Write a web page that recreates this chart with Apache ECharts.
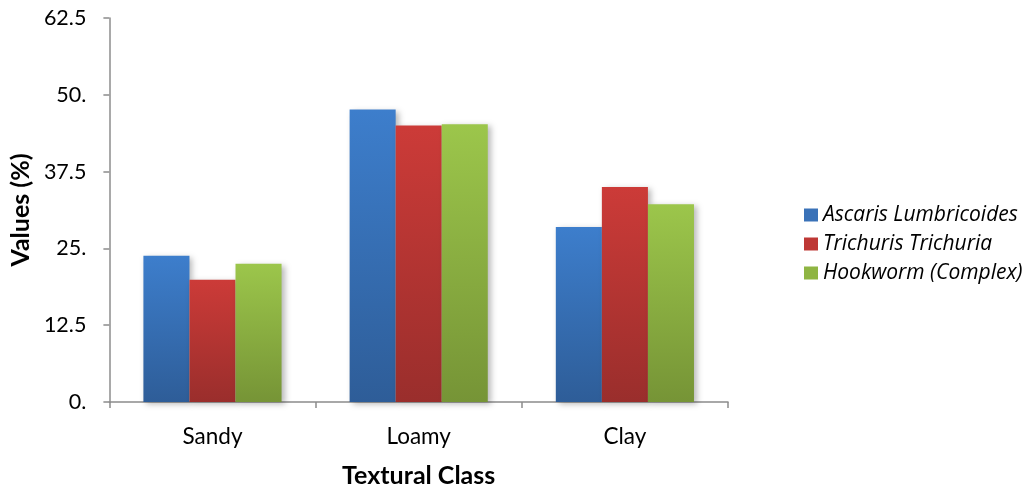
<!DOCTYPE html>
<html>
<head>
<meta charset="utf-8">
<script src="https://cdn.jsdelivr.net/npm/echarts@6/dist/echarts.min.js"></script>
<style>
  html, body { margin: 0; padding: 0; background: #fff; }
  #chart { width: 1035px; height: 493px; }
</style>
</head>
<body>
<div id="chart"></div>
<script>
const categories = ['Sandy', 'Loamy', 'Clay'];
const seriesNames = ['Ascaris Lumbricoides', 'Trichuris Trichuria', 'Hookworm (Complex)'];
const ascaris = [23.8, 47.6, 28.5];
const trichuris = [19.9, 45.0, 35.0];
const hookworm = [22.5, 45.2, 32.2];
const yTicks = [0, 12.5, 25, 37.5, 50, 62.5];

const FONT = 'Lato, "Open Sans", sans-serif';
const LEGEND_FONT = '"Open Sans", Lato, sans-serif';

function grad(top, bottom) {
  return new echarts.graphic.LinearGradient(0, 0, 0, 1, [
    { offset: 0, color: top },
    { offset: 1, color: bottom }
  ]);
}

const fills = [
  grad('#3d7ecc', '#2e5d98'),
  grad('#cc3b38', '#9a2e2c'),
  grad('#9cc64b', '#769436')
];
const legendColors = ['#3a72b8', '#be3835', '#8fb543'];
const values = [ascaris, trichuris, hookworm];

const chart = echarts.init(document.getElementById('chart'), null, { renderer: 'canvas' });

chart.setOption({
  animation: false,
  grid: { left: 108, right: 307, top: 18, bottom: 89, containLabel: false },
  legend: {
    orient: 'vertical',
    left: 799,
    top: 199,
    itemWidth: 14,
    itemHeight: 13,
    itemGap: 7,
    icon: 'rect',
    textStyle: { fontFamily: LEGEND_FONT, fontSize: 21, fontStyle: 'italic', color: '#000', lineHeight: 22 },
    data: seriesNames.map((n, i) => ({ name: n, itemStyle: { color: legendColors[i] } }))
  },
  xAxis: {
    type: 'category',
    data: categories,
    name: 'Textural Class',
    nameLocation: 'middle',
    nameGap: 61,
    nameTextStyle: { fontFamily: FONT, fontSize: 25, fontWeight: 'bold', color: '#000' },
    axisLine: { lineStyle: { color: '#8c8c8c', width: 1.5 } },
    axisTick: { show: true, length: 6, inside: false, lineStyle: { color: '#8c8c8c', width: 1.5 } },
    axisLabel: { fontFamily: FONT, fontSize: 22.5, color: '#000', margin: 23 }
  },
  yAxis: {
    type: 'value',
    min: 0,
    max: 62.5,
    interval: 12.5,
    name: 'Values (%)',
    nameLocation: 'middle',
    nameGap: 76,
    nameRotate: 90,
    nameTextStyle: { fontFamily: FONT, fontSize: 25, fontWeight: 'bold', color: '#000' },
    axisLine: { show: true, lineStyle: { color: '#8c8c8c', width: 1.5 } },
    axisTick: { show: true, length: 6, lineStyle: { color: '#8c8c8c', width: 1.5 } },
    splitLine: { show: false },
    axisLabel: {
      fontFamily: FONT, fontSize: 21.5, color: '#000', margin: 23,
      formatter: v => (yTicks.includes(v) && Number.isInteger(v)) ? v + '.' : String(v)
    }
  },
  series: seriesNames.map((name, i) => ({
    name,
    type: 'bar',
    data: values[i],
    barGap: '0%',
    barCategoryGap: '33%',
    itemStyle: {
      color: fills[i],
      shadowColor: 'rgba(0,0,0,0.28)',
      shadowBlur: 6,
      shadowOffsetX: 3,
      shadowOffsetY: 2
    }
  }))
});
</script>
</body>
</html>
